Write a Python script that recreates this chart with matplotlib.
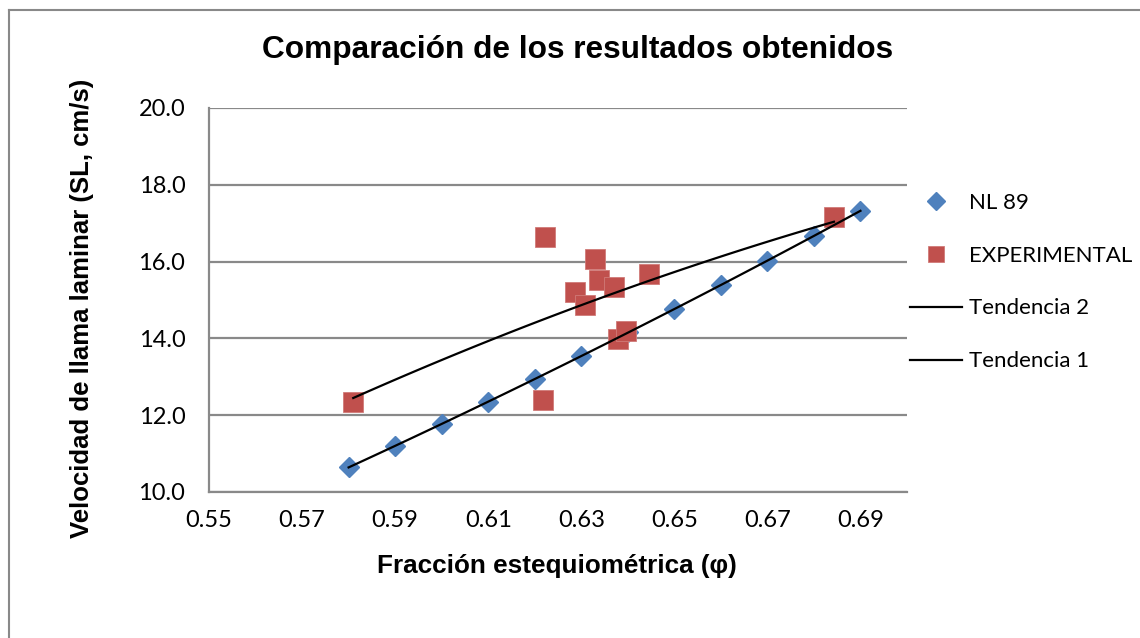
#!/usr/bin/env python3

# comparacion de resultados: NL 89 vs experimental, con lineas de tendencia

import numpy as np
import matplotlib.pyplot as plt
from matplotlib.lines import Line2D


# datos

nl_x = [0.58, 0.59, 0.60, 0.61, 0.62, 0.63, 0.64, 0.65, 0.66, 0.67, 0.68, 0.69]
nl_y = [10.65, 11.20, 11.77, 12.34, 12.93, 13.54, 14.17, 14.77, 15.39, 16.02, 16.67, 17.32]

exp_x = [0.581, 0.6218, 0.6222, 0.6287, 0.6308, 0.633, 0.6338, 0.637, 0.6379, 0.6396, 0.6446, 0.6843]
exp_y = [12.35, 12.40, 16.64, 15.21, 14.87, 16.07, 15.52, 15.33, 13.98, 14.19, 15.69, 17.16]

x_ticks = [0.55, 0.57, 0.59, 0.61, 0.63, 0.65, 0.67, 0.69]
y_ticks = [10.0, 12.0, 14.0, 16.0, 18.0, 20.0]

blue = "#4F81BD"
red = "#C0504D"
grey = "#898989"
tick_font = "Lato"


# lineas de tendencia (polinomio de grado 2, como en Excel)

c1 = np.polyfit(nl_x, nl_y, 2)
t1_x = np.linspace(min(nl_x), max(nl_x), 100)
t1_y = np.polyval(c1, t1_x)

c2 = np.polyfit(exp_x, exp_y, 2)
t2_x = np.linspace(min(exp_x), max(exp_x), 100)
t2_y = np.polyval(c2, t2_x)


# figura

fig = plt.figure(figsize=(11.4, 6.38), dpi=100)
ax = fig.add_axes([209 / 1140, 1 - 492 / 638, 698 / 1140, 384 / 638])

# borde exterior del grafico (solo izquierda y arriba visibles)
fig.add_artist(Line2D([9 / 1140, 9 / 1140], [0, 1 - 10 / 638], color=grey, lw=1.5))
fig.add_artist(Line2D([9 / 1140, 1], [1 - 10 / 638, 1 - 10 / 638], color=grey, lw=1.5))

ax.plot(t2_x, t2_y, color="black", lw=1.6, zorder=4, label="Tendencia 2")
ax.plot(t1_x, t1_y, color="black", lw=1.6, zorder=4, label="Tendencia 1")
ax.plot(nl_x, nl_y, ls="none", marker="D", ms=10.5, color=blue, mec=blue, zorder=3, label="NL 89")
ax.plot(exp_x, exp_y, ls="none", marker="s", ms=14, color=red, mec="#D07A78", mew=0.6, zorder=3,
        label="EXPERIMENTAL")

ax.set_xlim(0.55, 0.70)
ax.set_ylim(10, 20)
ax.set_xticks(x_ticks)
ax.set_yticks(y_ticks)
ax.set_xticklabels([f"{v:.2f}" for v in x_ticks], fontfamily=tick_font, fontsize=17)
ax.set_yticklabels([f"{v:.1f}" for v in y_ticks], fontfamily=tick_font, fontsize=17)
ax.tick_params(axis="x", length=0, pad=13)
ax.tick_params(axis="y", length=0, pad=17)
ax.grid(True, axis="y", color=grey, lw=1.6)
ax.set_axisbelow(True)
for side in ["top", "right"]:
    ax.spines[side].set_visible(False)
for side in ["left", "bottom"]:
    ax.spines[side].set_color(grey)
    ax.spines[side].set_linewidth(1.6)

fig.text(0.507, 1 - 50 / 638, "Comparación de los resultados obtenidos", ha="center", va="center",
         fontfamily="Liberation Sans", fontweight="bold", fontsize=22.8)
fig.text(557 / 1140, 1 - 566 / 638, "Fracción estequiométrica (φ)", ha="center", va="center",
         fontfamily="Liberation Sans", fontweight="bold", fontsize=18.8)
fig.text(82 / 1140, 1 - 308 / 638, "Velocidad de llama laminar (SL, cm/s)", ha="center", va="center",
         rotation=90, fontfamily="Liberation Sans", fontweight="bold", fontsize=18.5)


# leyenda

h, l = ax.get_legend_handles_labels()
order = [2, 3, 0, 1]
ax.legend([h[i] for i in order], [l[i] for i in order], loc="center left",
          bbox_to_anchor=(910 / 1140, 1 - 282 / 638), bbox_transform=fig.transFigure,
          frameon=False, prop={"family": tick_font, "size": 16}, borderpad=0, borderaxespad=0,
          handlelength=2.35, handletextpad=0.3, labelspacing=1.48, markerscale=0.85)

plt.savefig("out.png", dpi=100)
